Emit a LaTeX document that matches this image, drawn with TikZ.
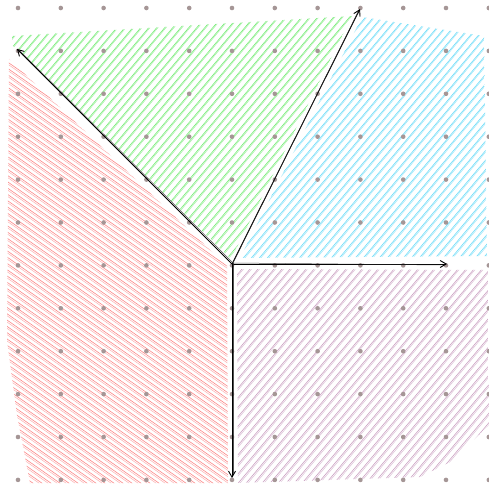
\documentclass[tikz,border=0pt]{standalone}
\usetikzlibrary{arrows.meta}
\definecolor{hgreen}{RGB}{105,234,105}
\definecolor{hcyan}{RGB}{95,217,248}
\definecolor{hred}{RGB}{252,125,125}
\definecolor{hpurple}{RGB}{198,152,188}
\definecolor{dotc}{RGB}{165,150,150}
\tikzset{
  hatchline/.style={line width=0.6pt, opacity=0.9},
  hatchtwo/.style={line width=0.5pt, opacity=0.6},
  arr/.style={line width=0.9pt, black, -{Straight Barb[length=6pt,width=7pt]}},
  arrtwo/.style={line width=0.5pt, black!85, opacity=0.8},
  griddot/.style={fill=dotc}
}
\begin{document}
\begin{tikzpicture}[x=1pt,y=-1pt]
\fill[white] (0,0) rectangle (489,489);
\useasboundingbox (0,0) rectangle (489,489);

% green region
\begin{scope}
\clip (12,36) -- (352,16) -- (231,259) -- (12,45) -- cycle;
\foreach \s in {-440,-432,...,500} {
  \draw[hatchline,hgreen] (\s,500) -- ({\s+420},0);
  \draw[hatchtwo,hgreen] ({\s+1.8},500) -- ({\s+421.2},0);
}
\end{scope}

% cyan region
\begin{scope}
\clip (362,17) -- (484,36) -- (487,256) -- (240,258) -- cycle;
\foreach \s in {-440,-432,...,520} {
  \draw[hatchline,hcyan] (\s,500) -- ({\s+420},0);
  \draw[hatchtwo,hcyan] ({\s+1.8},500) -- ({\s+421.2},0);
}
\end{scope}

% purple region
\begin{scope}
\clip (237,269) -- (488,270) -- (489,425) -- (452,461) -- (420,477) -- (238,483) -- cycle;
\foreach \s in {-200,-192,...,520} {
  \draw[hatchline,hpurple] (\s,500) -- ({\s+420},0);
  \draw[hatchtwo,hpurple] ({\s+1.8},500) -- ({\s+421.2},0);
}
\end{scope}

% red region
\begin{scope}
\clip (9,59) -- (227,266) -- (228,483) -- (30,483) -- (17,415) -- (7,340) -- cycle;
\foreach \s in {-720,-711,...,240} {
  \draw[hatchline,hred] (\s,0) -- ({\s+714},500);
  \draw[hatchtwo,hred] (\s,2) -- ({\s+714},502);
}
\end{scope}

% grid dots
\foreach \i in {0,...,11} {
  \foreach \j in {0,...,11} {
    \fill[griddot] ({18+42.8*\i},{8+42.9*\j}) circle (2.3);
  }
}

% arrows
\coordinate (c) at (232,264);
\coordinate (nw) at (17,49);
\coordinate (ne) at (360,9);
\coordinate (e) at (447,264);
\coordinate (s) at (232,478);
\coordinate (c2) at (233,263);
\coordinate (nw2) at (19,50);
\coordinate (ne2) at (358,12);
\coordinate (e2) at (443,265);
\coordinate (s2) at (233,474);

\draw[arr] (c) -- (nw);
\draw[arr] (c) -- (ne);
\draw[arr] (c) -- (e);
\draw[arr] (c) -- (s);
\draw[arrtwo] (c2) -- (nw2);
\draw[arrtwo] (c2) -- (ne2);
\draw[arrtwo] (c2) -- (e2);
\draw[arrtwo] (c2) -- (s2);
\end{tikzpicture}
\end{document}
